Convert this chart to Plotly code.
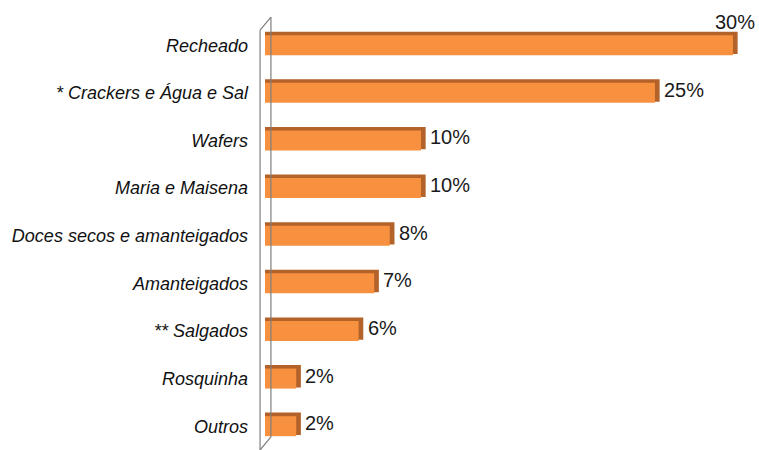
import plotly.graph_objects as go

# Categorias e participação (%) por tipo de biscoito
categorias = [
    "Recheado",
    "* Crackers e Água e Sal",
    "Wafers",
    "Maria e Maisena",
    "Doces secos e amanteigados",
    "Amanteigados",
    "** Salgados",
    "Rosquinha",
    "Outros",
]
valores = [30, 25, 10, 10, 8, 7, 6, 2, 2]
rotulos = ["30%", "25%", "10%", "10%", "8%", "7%", "6%", "2%", "2%"]

pos = list(range(len(categorias)))

LARANJA = "#F7913F"
SOMBRA = "#B3622A"
BAR_W = 0.47

fig = go.Figure()

# face superior / lateral escura (efeito 3D)
fig.add_trace(go.Bar(
    orientation="h",
    x=[v + 0.3 for v in valores],
    y=[p - 0.05 for p in pos],
    width=BAR_W,
    marker=dict(color=SOMBRA, line=dict(width=0)),
    hoverinfo="skip",
    showlegend=False,
))

# face frontal
fig.add_trace(go.Bar(
    orientation="h",
    x=valores,
    y=pos,
    width=BAR_W - 0.05,
    marker=dict(color=LARANJA, line=dict(width=0)),
    hovertemplate="%{customdata}: %{x}%<extra></extra>",
    customdata=categorias,
    showlegend=False,
))

# rótulos de valor
fonte_valor = dict(family="Liberation Sans, Arial", size=20, color="#1a1a1a")
anots = []
maior = max(valores)
for p, v, t in zip(pos, valores, rotulos):
    if v == maior:
        anots.append(dict(x=v, y=p, text=t, xref="x", yref="y", showarrow=False,
                          xanchor="right", yanchor="bottom", xshift=24, yshift=10,
                          font=fonte_valor))
    else:
        anots.append(dict(x=v, y=p, text=t, xref="x", yref="y", showarrow=False,
                          xanchor="left", yanchor="middle", xshift=7, yshift=3,
                          font=fonte_valor))

# parede do eixo (linhas do "piso" 3D)
linha = dict(color="#7f7f7f", width=1.2)
shapes = [
    dict(type="line", xref="paper", yref="paper", x0=-0.010, x1=-0.010, y0=0.0, y1=0.933, line=linha),
    dict(type="line", xref="paper", yref="paper", x0=0.012, x1=0.012, y0=0.029, y1=0.962, line=linha),
    dict(type="line", xref="paper", yref="paper", x0=-0.010, x1=0.012, y0=0.933, y1=0.962, line=linha),
    dict(type="line", xref="paper", yref="paper", x0=-0.010, x1=0.012, y0=0.0, y1=0.029, line=linha),
]

fig.update_layout(
    width=759,
    height=450,
    margin=dict(l=265, r=0, t=0, b=0),
    paper_bgcolor="white",
    plot_bgcolor="white",
    barmode="overlay",
    annotations=anots,
    shapes=shapes,
    xaxis=dict(range=[0, 31.67], visible=False, showgrid=False, zeroline=False,
               automargin=False),
    yaxis=dict(
        range=[8.5, -0.95],
        tickvals=pos,
        ticktext=categorias,
        ticks="",
        showgrid=False,
        zeroline=False,
        showline=False,
        automargin=False,
        ticklabelstandoff=16,
        tickfont=dict(family="Liberation Sans, Arial", size=18, color="#111111",
                      style="italic"),
    ),
)

fig.write_html("out.html")
